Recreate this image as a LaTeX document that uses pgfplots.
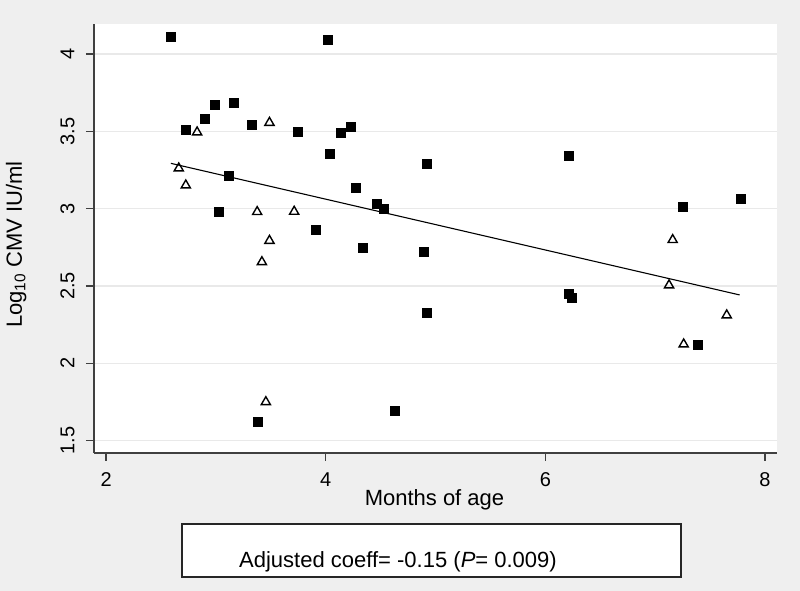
\documentclass[border=0pt]{standalone}
\usepackage{pgfplots}
\pgfplotsset{compat=1.18}
\usepackage{fontspec}
\setmainfont{Liberation Sans}
\definecolor{bg}{HTML}{EFEFEF}
\definecolor{gridc}{HTML}{E9E9E9}
\definecolor{axc}{HTML}{404040}
\begin{document}
\begin{tikzpicture}[x=1pt,y=1pt]
\useasboundingbox (0,0) rectangle (800,591);
\fill[bg] (0,0) rectangle (800,591);
\begin{axis}[
  at={(94pt,138pt)}, anchor=south west,
  scale only axis, width=683pt, height=429pt,
  xmin=1.89, xmax=8.11, ymin=1.42, ymax=4.194,
  axis x line*=bottom, axis y line*=left,
  axis line style={-, line width=1.2pt, color=axc},
  axis background/.style={fill=white},
  xtick={2,4,6,8}, ytick={1.5,2,2.5,3,3.5,4},
  tick align=outside, major tick length=8pt,
  tick style={line width=1.2pt, color=axc},
  ymajorgrids, grid style={gridc, line width=1.2pt},
  /pgf/number format/assume math mode=true,
  xticklabel shift=8pt, yticklabel shift=8pt,
  xticklabel style={font=\fontsize{20}{24}\selectfont},
  yticklabel style={rotate=90, anchor=south, font=\fontsize{20}{24}\selectfont},
  xlabel={Months of age},
  xlabel style={font=\fontsize{22}{26}\selectfont, at={(axis description cs:0.4985,-0.1235)}, anchor=base},
  ylabel={Log\textsubscript{10} CMV IU/ml},
  ylabel style={font=\fontsize{22}{26}\selectfont, at={(axis description cs:-0.114,0.486)}, anchor=center, rotate=0},
  clip=false,
]
\addplot[only marks, mark=square*, mark size=4.5pt, mark options={fill=black, draw=black}] table {
x y
2.59 4.112
4.014 4.090
2.99 3.675
3.164 3.685
2.899 3.580
2.723 3.509
3.324 3.541
3.749 3.498
4.141 3.489
4.232 3.528
4.041 3.354
3.118 3.216
4.275 3.134
4.469 3.032
4.530 3.000
3.03 2.979
3.911 2.864
4.335 2.750
4.922 3.291
6.216 3.343
7.255 3.011
7.783 3.063
4.892 2.720
6.216 2.449
6.243 2.421
4.922 2.330
7.391 2.123
3.382 1.623
4.627 1.696
};
\addplot[only marks, mark=triangle, mark size=5.3pt, mark options={draw=black, fill=white, line width=1.4pt}] table {
x y
2.829 3.494
3.488 3.556
2.662 3.261
2.726 3.151
3.376 2.979
3.713 2.981
3.488 2.793
3.419 2.655
7.160 2.798
7.127 2.505
7.652 2.311
7.260 2.123
3.455 1.750
};
\addplot[black, line width=1.1pt, no marks] coordinates {(2.59,3.293) (7.77,2.442)};
\end{axis}
\draw[fill=white, line width=1.3pt, draw=black!85] (182,14) rectangle (681,67);
\node[anchor=base west, inner sep=0pt, font=\fontsize{22}{26}\selectfont] at (239,23) {Adjusted coeff= -0.15 (\textit{P}= 0.009)};
\end{tikzpicture}
\end{document}
